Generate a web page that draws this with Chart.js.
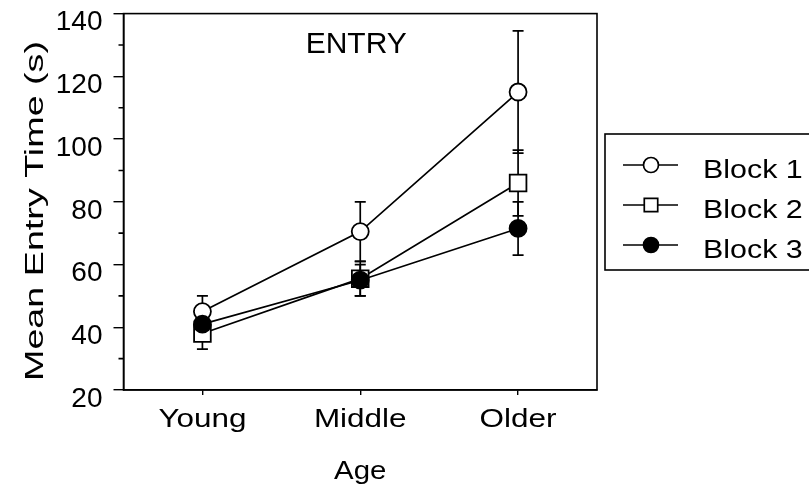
<!DOCTYPE html>
<html>
<head>
<meta charset="utf-8">
<script src="https://cdn.jsdelivr.net/npm/chart.js@4/dist/chart.umd.min.js"></script>
<style>
  html, body { margin: 0; padding: 0; background: #fff; }
  #wrap { width: 809px; height: 485px; position: relative; }
</style>
</head>
<body>
<div id="wrap"><canvas id="c" width="809" height="485"></canvas></div>
<script>
// Age groups on the x axis
const categories = ['Young', 'Middle', 'Older'];

// Mean entry time (s) per block, with error bar half-widths
const block1 = [45, 70.5, 115];
const block1Err = [5, 9.5, 19.5];
const block2 = [38, 55.5, 86];
const block2Err = [5, 5.5, 10.5];
const block3 = [41, 55, 71.5];
const block3Err = [4, 5, 8.5];

const seriesNames = ['Block 1', 'Block 2', 'Block 3'];

// Y axis: labelled ticks and in-between minor ticks
const yMin = 20, yMax = 140;
const yLabelStep = 20;
const yMinorTicks = [30, 50, 70, 90, 110, 130];

const chartTitle = 'ENTRY';
const xTitle = 'Age';
const yTitle = 'Mean Entry Time (s)';

const FONT = '"Liberation Sans", Arial, Helvetica, sans-serif';
const INK = '#000';

const errors = [block1Err, block2Err, block3Err];

// drawOrder: lower numbers end up on top (filled markers over open ones)
const markerStyles = [
  { pointStyle: 'circle', radius: 8.5, fill: '#fff', legendRadius: 7.5, drawOrder: 1 },
  { pointStyle: 'rect', radius: 11.8, fill: '#fff', legendRadius: 9.5, drawOrder: 2 },
  { pointStyle: 'circle', radius: 8.5, fill: '#000', legendRadius: 7.5, drawOrder: 0 }
];

const datasets = [block1, block2, block3].map((vals, i) => ({
  label: seriesNames[i],
  data: vals,
  order: markerStyles[i].drawOrder,
  borderColor: INK,
  borderWidth: 1.7,
  pointStyle: markerStyles[i].pointStyle,
  pointRadius: markerStyles[i].radius,
  pointBackgroundColor: markerStyles[i].fill,
  pointBorderColor: INK,
  pointBorderWidth: 1.8,
  fill: false,
  tension: 0
}));

// Text drawn with a slight horizontal widening, optionally rotated
function drawWideText(ctx, text, x, y, size, sx, align, angle) {
  ctx.save();
  ctx.translate(x, y);
  if (angle) ctx.rotate(angle);
  ctx.scale(sx, 1);
  ctx.font = size + 'px ' + FONT;
  ctx.fillStyle = INK;
  ctx.textAlign = align;
  ctx.textBaseline = 'alphabetic';
  ctx.fillText(text, 0, 0);
  ctx.restore();
}

// Error bars, frame, minor ticks, axis text, in-plot title and legend box
const decorations = {
  id: 'decorations',
  beforeDatasetsDraw(chart) {
    const ctx = chart.ctx;
    const x = chart.scales.x, y = chart.scales.y;
    ctx.save();
    ctx.strokeStyle = INK;
    ctx.lineWidth = 1.7;
    datasets.forEach((ds, i) => {
      ds.data.forEach((v, j) => {
        const e = errors[i][j];
        const px = x.getPixelForValue(j);
        const top = y.getPixelForValue(v + e);
        const bot = y.getPixelForValue(v - e);
        ctx.beginPath();
        ctx.moveTo(px, top); ctx.lineTo(px, bot);
        ctx.moveTo(px - 5.5, top); ctx.lineTo(px + 5.5, top);
        ctx.moveTo(px - 5.5, bot); ctx.lineTo(px + 5.5, bot);
        ctx.stroke();
      });
    });
    ctx.restore();
  },
  afterDraw(chart) {
    const ctx = chart.ctx;
    const a = chart.chartArea;
    const x = chart.scales.x, y = chart.scales.y;
    ctx.save();
    ctx.strokeStyle = INK;
    ctx.lineWidth = 1.6;
    // plot frame
    ctx.strokeRect(a.left, a.top, a.right - a.left, a.bottom - a.top);
    // minor ticks on the y axis
    ctx.beginPath();
    yMinorTicks.forEach(v => {
      const py = y.getPixelForValue(v);
      ctx.moveTo(a.left - 5, py); ctx.lineTo(a.left, py);
    });
    ctx.stroke();

    // category labels and axis titles
    categories.forEach((c, j) => {
      drawWideText(ctx, c, x.getPixelForValue(j), a.bottom + 37, 26, 1.21, 'center');
    });
    drawWideText(ctx, xTitle, x.getPixelForValue(1), 479, 26, 1.13, 'center');
    drawWideText(ctx, yTitle, 43, 211, 26, 1.45, 'center', -Math.PI / 2);

    // title inside the plot
    drawWideText(ctx, chartTitle, x.getPixelForValue(1) - 4, 53, 30, 1.0, 'center');

    // legend box to the right of the plot
    const box = { left: 605, top: 134, right: 830, bottom: 270 };
    ctx.strokeStyle = INK;
    ctx.lineWidth = 1.6;
    ctx.strokeRect(box.left, box.top, box.right - box.left, box.bottom - box.top);
    const rowY = [165, 205, 245];
    datasets.forEach((ds, i) => {
      const yy = rowY[i];
      ctx.strokeStyle = INK;
      ctx.lineWidth = 1.4;
      ctx.beginPath();
      ctx.moveTo(623, yy); ctx.lineTo(678, yy);
      ctx.stroke();
      ctx.fillStyle = markerStyles[i].fill;
      ctx.lineWidth = 1.7;
      Chart.helpers.drawPoint(ctx, {
        pointStyle: markerStyles[i].pointStyle,
        radius: markerStyles[i].legendRadius,
        rotation: 0,
        borderWidth: 1.7
      }, 651, yy);
      drawWideText(ctx, ds.label, 703, yy + 13, 26, 1.17, 'left');
    });
    ctx.restore();
  }
};

new Chart(document.getElementById('c'), {
  type: 'line',
  data: { labels: categories, datasets },
  options: {
    responsive: false,
    animation: false,
    events: [],
    layout: { padding: { top: 13.5, right: 212, bottom: 0, left: 0 } },
    plugins: {
      legend: { display: false },
      tooltip: { enabled: false },
      title: { display: false }
    },
    scales: {
      x: {
        type: 'category',
        offset: true,
        border: { display: true, color: INK, width: 1.6 },
        grid: { display: true, drawOnChartArea: false, drawTicks: true, tickLength: 5, color: INK, lineWidth: 1.4, offset: false },
        ticks: { display: false },
        title: { display: false },
        afterFit(scale) {
          scale.height = 95;
          scale.paddingLeft = 0;
          scale.paddingRight = 0;
        }
      },
      y: {
        min: yMin,
        max: yMax,
        border: { display: true, color: INK, width: 1.6 },
        grid: { display: true, drawOnChartArea: false, drawTicks: true, tickLength: 10, color: INK, lineWidth: 1.4 },
        ticks: { stepSize: yLabelStep, color: INK, font: { family: FONT, size: 28 }, padding: 11, labelOffset: 9 },
        title: { display: false },
        afterFit(scale) {
          scale.width = 123.5;
          scale.paddingTop = 0;
          scale.paddingBottom = 0;
        }
      }
    }
  },
  plugins: [decorations]
});
</script>
</body>
</html>
